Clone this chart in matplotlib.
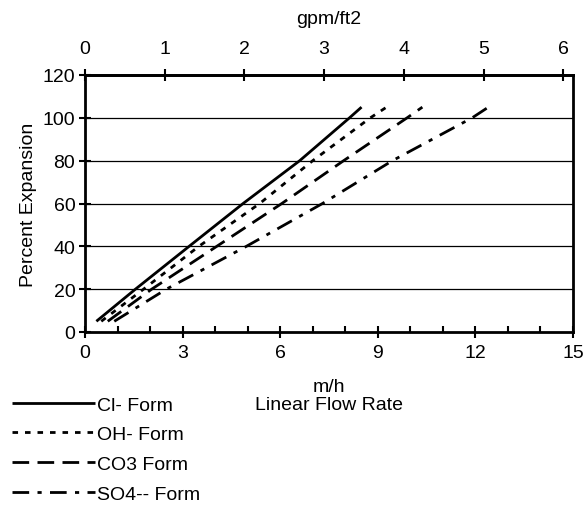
import matplotlib
matplotlib.use('Agg')
import matplotlib.pyplot as plt

plt.rcParams['font.family'] = ['Liberation Sans', 'DejaVu Sans']
plt.rcParams['font.size'] = 14

# Percent expansion levels
expansion = [5, 20, 40, 60, 80, 100, 105]

# Linear flow rate (m/h) for each resin form at those expansion levels
cl_form = [0.35, 1.55, 3.2, 4.86, 6.6, 8.13, 8.5]
oh_form = [0.5, 1.8, 3.5, 5.37, 7.0, 8.77, 9.27]
co3_form = [0.7, 2.05, 4.05, 6.05, 7.95, 9.9, 10.37]
so4_form = [0.9, 2.5, 4.96, 7.3, 9.45, 11.9, 12.4]

labels = ['Cl- Form', 'OH- Form', 'CO3 Form', 'SO4-- Form']

# m/h per gpm/ft2
M_PER_GPM = 2.45

fig = plt.figure(figsize=(5.85, 5.06), dpi=100)
ax = fig.add_axes([85 / 585, 1 - 333 / 506, (573 - 85) / 585, (333 - 76) / 506])

lw = 2
ax.plot(cl_form, expansion, color='black', lw=lw, solid_capstyle='butt', label=labels[0])
ax.plot(oh_form, expansion, color='black', lw=lw, dashes=(2, 2.5), label=labels[1])
ax.plot(co3_form, expansion, color='black', lw=lw, dashes=(6, 3), label=labels[2])
ax.plot(so4_form, expansion, color='black', lw=lw, dashes=(6, 3, 1.5, 3), label=labels[3])

ax.set_xlim(0, 15)
ax.set_ylim(0, 120)
ax.set_xticks(range(0, 16, 3))
ax.set_xticks(range(0, 16), minor=True)
ax.set_yticks(range(0, 121, 20))

for y in range(20, 101, 20):
    ax.axhline(y, color='black', lw=0.9, zorder=0)

for side in ['left', 'right', 'bottom', 'top']:
    ax.spines[side].set_linewidth(2)
ax.tick_params(axis='x', which='major', direction='inout', length=8, width=1.5, pad=5)
ax.tick_params(axis='x', which='minor', direction='in', length=4, width=1.5)
ax.tick_params(axis='y', direction='inout', length=8, width=1.5, pad=3)

ax.set_ylabel('Percent Expansion', labelpad=4)
ax.set_xlabel('m/h\nLinear Flow Rate', linespacing=1.1, labelpad=12)

top = ax.secondary_xaxis('top', functions=(lambda x: x / M_PER_GPM, lambda x: x * M_PER_GPM))
top.set_xticks(range(0, 7))
top.spines['top'].set_linewidth(2)
top.tick_params(direction='inout', length=8, width=1.5, pad=9)
top.set_xlabel('gpm/ft2', labelpad=12)

ax.legend(loc='upper left', bbox_to_anchor=(0.02, 1 - 397 / 506), bbox_transform=fig.transFigure,
          frameon=False, handlelength=4.3, handletextpad=0.1, labelspacing=0.62,
          borderaxespad=0, borderpad=0)

fig.savefig('out.png', dpi=100)
